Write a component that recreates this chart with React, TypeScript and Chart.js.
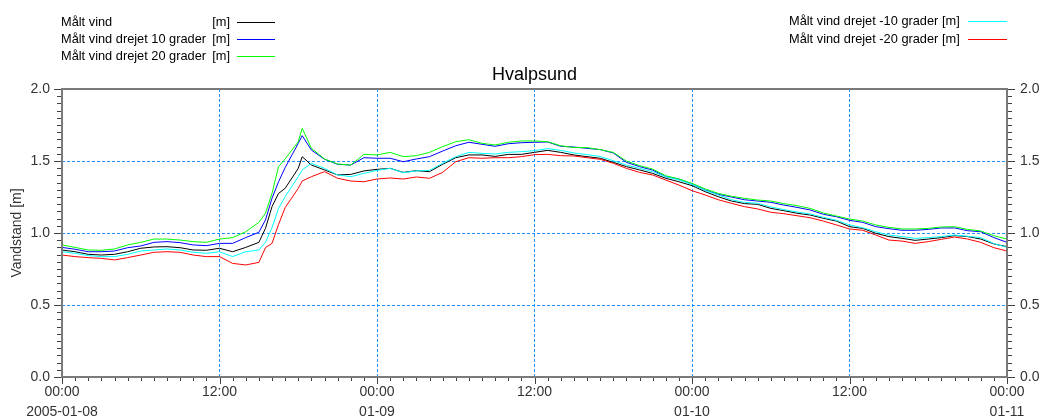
import React, { useEffect, useRef } from 'react';
import { Chart, registerables } from 'chart.js';

Chart.register(...registerables);

// Hours since 2005-01-08 00:00
const hours = [
  0, 1, 2, 3, 4, 5, 6, 7, 8, 9, 10, 11, 12, 13, 14, 15, 15.5, 16, 16.5, 17, 18, 18.3,
  19, 20, 21, 22, 23, 24, 25, 26, 27, 28, 29, 30, 31, 32, 33, 34, 35, 36, 37, 38, 39, 40,
  41, 42, 43, 44, 45, 46, 47, 48, 49, 50, 51, 52, 53, 54, 55, 56, 57, 58, 59, 60, 61, 62,
  63, 64, 65, 66, 67, 68, 69, 70, 71, 72,
];

const maaltVind = [
  0.882, 0.870, 0.852, 0.847, 0.852, 0.870, 0.894, 0.903, 0.905, 0.898, 0.882, 0.880, 0.894, 0.870, 0.900, 0.935, 1.032, 1.183, 1.275, 1.310, 1.449, 1.530,
  1.472, 1.438, 1.403, 1.407, 1.431, 1.442, 1.449, 1.421, 1.433, 1.426, 1.477, 1.523, 1.542, 1.542, 1.532, 1.546, 1.546, 1.560, 1.574, 1.560, 1.542, 1.530,
  1.519, 1.491, 1.461, 1.438, 1.414, 1.380, 1.356, 1.329, 1.287, 1.252, 1.222, 1.204, 1.199, 1.171, 1.155, 1.137, 1.125, 1.102, 1.083, 1.044, 1.032, 0.998,
  0.975, 0.963, 0.949, 0.958, 0.968, 0.982, 0.975, 0.958, 0.924, 0.905,
];

const drejet10 = [
  0.900, 0.887, 0.870, 0.870, 0.875, 0.898, 0.910, 0.935, 0.940, 0.933, 0.917, 0.912, 0.928, 0.928, 0.968, 1.005, 1.090, 1.241, 1.356, 1.454, 1.623, 1.676,
  1.576, 1.512, 1.477, 1.472, 1.523, 1.519, 1.519, 1.495, 1.514, 1.530, 1.569, 1.606, 1.630, 1.616, 1.602, 1.620, 1.627, 1.630, 1.632, 1.602, 1.597, 1.588,
  1.579, 1.556, 1.491, 1.461, 1.437, 1.391, 1.375, 1.340, 1.299, 1.269, 1.250, 1.231, 1.222, 1.213, 1.194, 1.178, 1.160, 1.130, 1.113, 1.088, 1.074, 1.044,
  1.030, 1.019, 1.019, 1.025, 1.035, 1.035, 1.016, 1.009, 0.968, 0.935,
];

const drejet20 = [
  0.917, 0.900, 0.882, 0.880, 0.889, 0.917, 0.935, 0.958, 0.958, 0.951, 0.940, 0.935, 0.958, 0.968, 1.009, 1.074, 1.137, 1.275, 1.461, 1.514, 1.634, 1.727,
  1.588, 1.514, 1.479, 1.472, 1.546, 1.542, 1.560, 1.530, 1.537, 1.560, 1.600, 1.634, 1.648, 1.623, 1.611, 1.630, 1.639, 1.639, 1.634, 1.606, 1.593, 1.593,
  1.579, 1.560, 1.500, 1.468, 1.444, 1.398, 1.375, 1.345, 1.306, 1.275, 1.255, 1.241, 1.229, 1.222, 1.204, 1.190, 1.171, 1.139, 1.118, 1.097, 1.083, 1.056,
  1.039, 1.028, 1.028, 1.032, 1.042, 1.044, 1.025, 1.014, 0.981, 0.958,
];

const drejetMinus10 = [
  0.870, 0.859, 0.843, 0.836, 0.836, 0.852, 0.875, 0.882, 0.889, 0.882, 0.866, 0.859, 0.870, 0.836, 0.870, 0.882, 0.935, 1.037, 1.171, 1.252, 1.391, 1.438,
  1.484, 1.449, 1.403, 1.391, 1.414, 1.435, 1.449, 1.419, 1.431, 1.435, 1.484, 1.530, 1.560, 1.553, 1.549, 1.560, 1.565, 1.572, 1.586, 1.574, 1.556, 1.544,
  1.532, 1.502, 1.472, 1.449, 1.426, 1.391, 1.368, 1.338, 1.296, 1.264, 1.231, 1.213, 1.206, 1.181, 1.162, 1.146, 1.132, 1.109, 1.088, 1.056, 1.037, 1.009,
  0.986, 0.975, 0.963, 0.968, 0.975, 0.986, 0.977, 0.968, 0.926, 0.900,
];

const drejetMinus20 = [
  0.847, 0.836, 0.829, 0.824, 0.813, 0.829, 0.847, 0.866, 0.870, 0.866, 0.847, 0.836, 0.836, 0.789, 0.778, 0.796, 0.898, 0.928, 1.060, 1.176, 1.310, 1.361,
  1.391, 1.426, 1.380, 1.361, 1.356, 1.375, 1.382, 1.375, 1.389, 1.380, 1.421, 1.495, 1.523, 1.519, 1.523, 1.523, 1.530, 1.544, 1.546, 1.537, 1.535, 1.523,
  1.512, 1.484, 1.449, 1.421, 1.403, 1.368, 1.333, 1.294, 1.264, 1.231, 1.206, 1.183, 1.167, 1.144, 1.134, 1.120, 1.106, 1.083, 1.056, 1.028, 1.019, 0.986,
  0.951, 0.944, 0.928, 0.940, 0.956, 0.972, 0.958, 0.935, 0.898, 0.875,
];

const seriesNames = [
  'Målt vind',
  'Målt vind drejet 10 grader',
  'Målt vind drejet 20 grader',
  'Målt vind drejet -10 grader',
  'Målt vind drejet -20 grader',
];
const seriesColors = ['#000000', '#0000ff', '#00ff00', '#00ffff', '#ff0000'];
const unitLabel = '[m]';

const xTickValues = [0, 12, 24, 36, 48, 60, 72];
const xTickLabels = [
  ['00:00', '2005-01-08'],
  ['12:00'],
  ['00:00', '01-09'],
  ['12:00'],
  ['00:00', '01-10'],
  ['12:00'],
  ['00:00', '01-11'],
];
const yMin = 0;
const yMax = 2;
const yStep = 0.5;
const yMinorStep = 0.05;
const xMinorStep = 1;

const FONT = "'Liberation Sans', Arial, sans-serif";
const GRID = 'rgb(30,144,255)';
const TICK_TEXT = '#333333';

const framePlugin = {
  id: 'frameTicks',
  afterDraw(chart: any) {
    const { ctx, chartArea, scales } = chart;
    const { left, right, top, bottom } = chartArea;
    const x = scales.x;
    const y = scales.y;
    ctx.save();
    ctx.strokeStyle = '#404040';
    ctx.lineWidth = 1;
    ctx.beginPath();
    const nx = Math.round((x.max - x.min) / xMinorStep);
    for (let i = 0; i <= nx; i++) {
      const v = x.min + i * xMinorStep;
      const px = Math.round(x.getPixelForValue(v)) + 0.5;
      const len = xTickValues.includes(v) ? 7 : 4;
      ctx.moveTo(px, bottom);
      ctx.lineTo(px, bottom + len);
    }
    const ny = Math.round((y.max - y.min) / yMinorStep);
    const major = Math.round(yStep / yMinorStep);
    for (let k = 0; k <= ny; k++) {
      const v = y.min + k * yMinorStep;
      const py = Math.round(y.getPixelForValue(v)) + 0.5;
      const len = k % major === 0 ? 8 : 5;
      ctx.moveTo(left, py);
      ctx.lineTo(left - len, py);
      ctx.moveTo(right, py);
      ctx.lineTo(right + len, py);
    }
    ctx.stroke();
    ctx.strokeStyle = '#7a7a7a';
    ctx.lineWidth = 2;
    ctx.strokeRect(left, top, right - left, bottom - top);
    ctx.restore();
  },
};

const gridColor = (c: any) => {
  const v = c.tick ? c.tick.value : null;
  if (v === null) return GRID;
  const s = c.scale;
  if (Math.abs(v - s.min) < 1e-9 || Math.abs(v - s.max) < 1e-9) return 'rgba(0,0,0,0)';
  return GRID;
};

export default function App() {
  const ref = useRef<HTMLCanvasElement>(null);

  useEffect(() => {
    if (!ref.current) return;
    const all = [maaltVind, drejet10, drejet20, drejetMinus10, drejetMinus20];
    const datasets = all.map((vals, i) => ({
      label: seriesNames[i],
      data: hours.map((h, j) => ({ x: h, y: vals[j] })),
      borderColor: seriesColors[i],
      backgroundColor: seriesColors[i],
      borderWidth: 1,
      pointRadius: 0,
      tension: 0,
      fill: false,
      order: 5 - i,
    }));
    const chart = new Chart(ref.current, {
      type: 'line',
      data: { datasets },
      options: {
        animation: false,
        responsive: false,
        maintainAspectRatio: false,
        events: [],
        layout: { padding: { top: 63, left: 0, right: 0, bottom: 0 } },
        plugins: {
          legend: { display: false },
          tooltip: { enabled: false },
          title: {
            display: true,
            fullSize: false,
            text: 'Hvalpsund',
            color: '#000',
            font: { family: FONT, size: 18, weight: 'normal', lineHeight: 22 / 18 },
            padding: { top: 1.5, bottom: 2.5 },
          },
        },
        scales: {
          x: {
            type: 'linear',
            min: 0,
            max: 72,
            afterFit: (s: any) => { s.height = 43; },
            ticks: {
              stepSize: 12,
              autoSkip: false,
              maxRotation: 0,
              padding: 5,
              color: TICK_TEXT,
              font: { family: FONT, size: 14, lineHeight: 20 / 14 },
              callback: (v: any) => {
                const i = xTickValues.indexOf(Number(v));
                return i >= 0 ? xTickLabels[i] : '';
              },
            },
            grid: { color: gridColor, lineWidth: 1, drawTicks: false },
            border: { display: false, dash: [3, 2] },
          },
          y: {
            position: 'left',
            min: yMin,
            max: yMax,
            afterFit: (s: any) => { s.width = 62; },
            ticks: {
              stepSize: yStep,
              padding: 12,
              color: TICK_TEXT,
              font: { family: FONT, size: 14 },
              callback: (v: any) => Number(v).toFixed(1),
            },
            grid: { color: gridColor, lineWidth: 1, drawTicks: false },
            border: { display: false, dash: [3, 2] },
            title: {
              display: true,
              text: 'Vandstand [m]',
              color: TICK_TEXT,
              font: { family: FONT, size: 14 },
              padding: { top: 9, bottom: 0 },
            },
          },
          y2: {
            position: 'right',
            min: yMin,
            max: yMax,
            afterFit: (s: any) => { s.width = 36; },
            ticks: {
              stepSize: yStep,
              padding: 13,
              color: TICK_TEXT,
              font: { family: FONT, size: 14 },
              callback: (v: any) => Number(v).toFixed(1),
            },
            grid: { display: false, drawTicks: false },
            border: { display: false },
          },
        },
      },
      plugins: [framePlugin],
    });
    return () => chart.destroy();
  }, []);

  const legendFont: React.CSSProperties = {
    fontFamily: FONT,
    fontSize: '12.8px',
    lineHeight: '16px',
    color: '#000',
    whiteSpace: 'nowrap',
    position: 'absolute',
  };
  const leftRows = [0, 1, 2];
  const rightRows = [3, 4];
  const leftY = [22, 39, 56];
  const rightY = [21, 39];

  return (
    <div style={{ position: 'absolute', left: 0, top: 0, width: 1043, height: 420, background: '#fff' }}>
      <canvas ref={ref} width={1043} height={420} style={{ position: 'absolute', left: 0, top: 0 }} />
      {leftRows.map((si, r) => (
        <React.Fragment key={si}>
          <div style={{ ...legendFont, left: 61, top: leftY[r] - 8, width: 169, display: 'flex', justifyContent: 'space-between' }}>
            <span>{seriesNames[si]}</span>
            <span>{unitLabel}</span>
          </div>
          <div style={{ position: 'absolute', left: 237, top: leftY[r], width: 38, height: 1, background: seriesColors[si] }} />
        </React.Fragment>
      ))}
      {rightRows.map((si, r) => (
        <React.Fragment key={si}>
          <div style={{ ...legendFont, left: 789, top: rightY[r] - 8 }}>
            {seriesNames[si] + ' ' + unitLabel}
          </div>
          <div style={{ position: 'absolute', left: 968, top: rightY[r], width: 39, height: 1, background: seriesColors[si] }} />
        </React.Fragment>
      ))}
    </div>
  );
}
